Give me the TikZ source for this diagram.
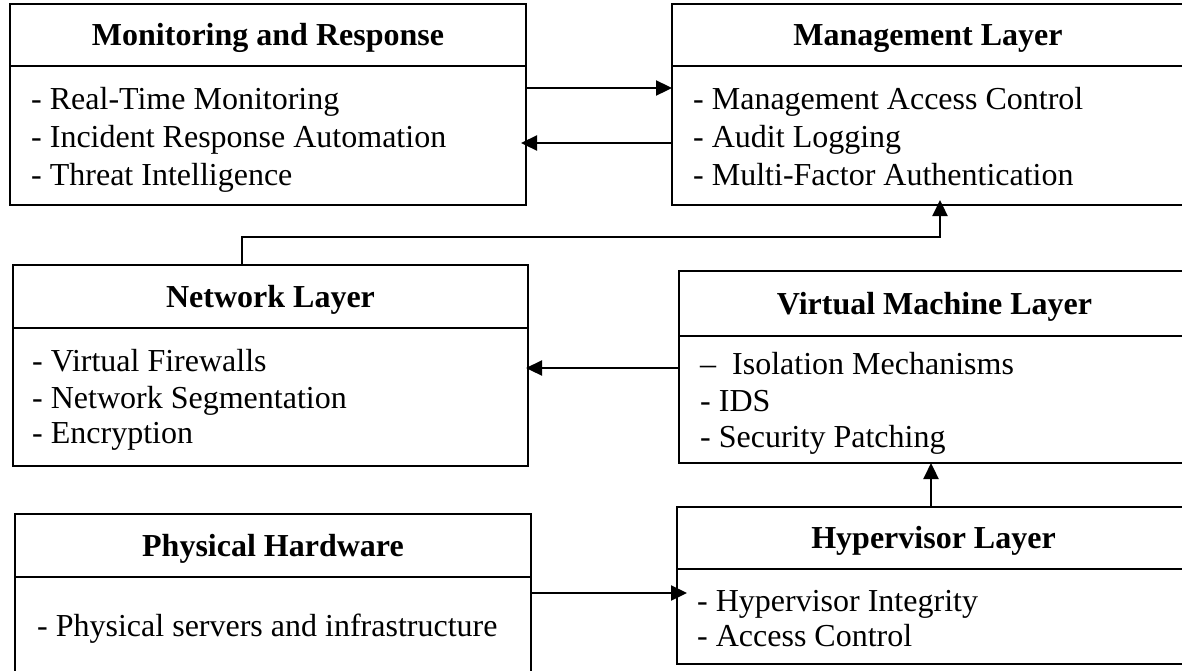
\documentclass[tikz,border=0pt]{standalone}
\usepackage{fontspec}
\setmainfont{Liberation Serif}
\usetikzlibrary{arrows.meta}
\begin{document}
\begin{tikzpicture}[x=1pt,y=1pt,
  frame/.style={draw, line width=2.5pt, inner sep=0pt, outer sep=0pt, anchor=north west},
  title/.style={font=\fontsize{32}{38}\selectfont\bfseries, text height=25pt, text depth=4pt},
  item/.style={font=\fontsize{32}{38}\selectfont, anchor=base west, inner sep=0pt},
  link/.style={line width=2.3pt, -{Triangle[length=16pt,width=15pt]}}]
\useasboundingbox (0,0) rectangle (1182,-670);
\clip (0,0) rectangle (1182,-670);

% Monitoring and Response
\node[frame, title, minimum width=516pt, minimum height=62pt] (monH) at (10,-4) {Monitoring and Response};
\node[frame, minimum width=516pt, minimum height=139pt] (monB) at (monH.south west) {};
\node[item] (mon1) at (31,-109) {- Real-Time Monitoring};
\node[item] (mon2) at (31,-147) {- Incident Response Automation};
\node[item] (mon3) at (31,-185) {- Threat Intelligence};

% Management Layer
\node[frame, title, minimum width=512pt, minimum height=62pt] (mgmtH) at (672,-4) {Management Layer};
\node[frame, minimum width=512pt, minimum height=139pt] (mgmtB) at (mgmtH.south west) {};
\node[item] (mgmt1) at (693,-109) {- Management Access Control};
\node[item] (mgmt2) at (693,-147) {- Audit Logging};
\node[item] (mgmt3) at (693,-185) {- Multi-Factor Authentication};

% Network Layer
\node[frame, title, minimum width=515pt, minimum height=63pt] (netH) at (13,-265) {Network Layer};
\node[frame, minimum width=515pt, minimum height=138pt] (netB) at (netH.south west) {};
\node[item] (net1) at (32,-371) {- Virtual Firewalls};
\node[item] (net2) at (32,-408) {- Network Segmentation};
\node[item] (net3) at (32,-443) {- Encryption};

% Virtual Machine Layer
\node[frame, title, minimum width=511pt, minimum height=65pt] (vmH) at (679,-271) {Virtual Machine Layer};
\node[frame, minimum width=511pt, minimum height=127pt] (vmB) at (vmH.south west) {};
\node[item] (vm1) at (700,-374) {–\ \ Isolation Mechanisms};
\node[item] (vm2) at (700,-411) {- IDS};
\node[item] (vm3) at (700,-447) {- Security Patching};

% Physical Hardware
\node[frame, title, minimum width=516pt, minimum height=63pt] (physH) at (15,-514) {Physical Hardware};
\node[frame, minimum width=516pt, minimum height=120pt] (physB) at (physH.south west) {};
\node[item] (phys1) at (37,-636) {- Physical servers and infrastructure};

% Hypervisor Layer
\node[frame, title, minimum width=513pt, minimum height=62pt] (hypH) at (677,-507) {Hypervisor Layer};
\node[frame, minimum width=513pt, minimum height=95pt] (hypB) at (hypH.south west) {};
\node[item] (hyp1) at (697,-611) {- Hypervisor Integrity};
\node[item] (hyp2) at (697,-646) {- Access Control};

% Connectors
\coordinate (c1) at ([yshift=-22pt]monB.north east);
\draw[link] (c1) -- (c1 -| mgmtB.west);
\coordinate (c2) at ([yshift=-77pt]mgmtB.north west);
\draw[link, shorten >=-5pt] (c2) -- (c2 -| monB.east);
\coordinate (c3) at ([xshift=-28.5pt]netH.north);
\coordinate (c3e) at ([xshift=12pt]mgmtB.south);
\draw[link, shorten >=-5pt] (c3) -- ++(0,28) -| (c3e);
\coordinate (c4) at ([yshift=-32pt]vmB.north west);
\draw[link, shorten >=-2pt] (c4) -- (c4 -| netB.east);
\coordinate (c5) at ([xshift=-2.5pt]hypH.north);
\draw[link] (c5) -- (c5 |- vmB.south);
\coordinate (c6) at ([yshift=-16pt]physB.north east);
\draw[link, shorten >=-10pt] (c6) -- (c6 -| hypB.west);
\end{tikzpicture}
\end{document}
